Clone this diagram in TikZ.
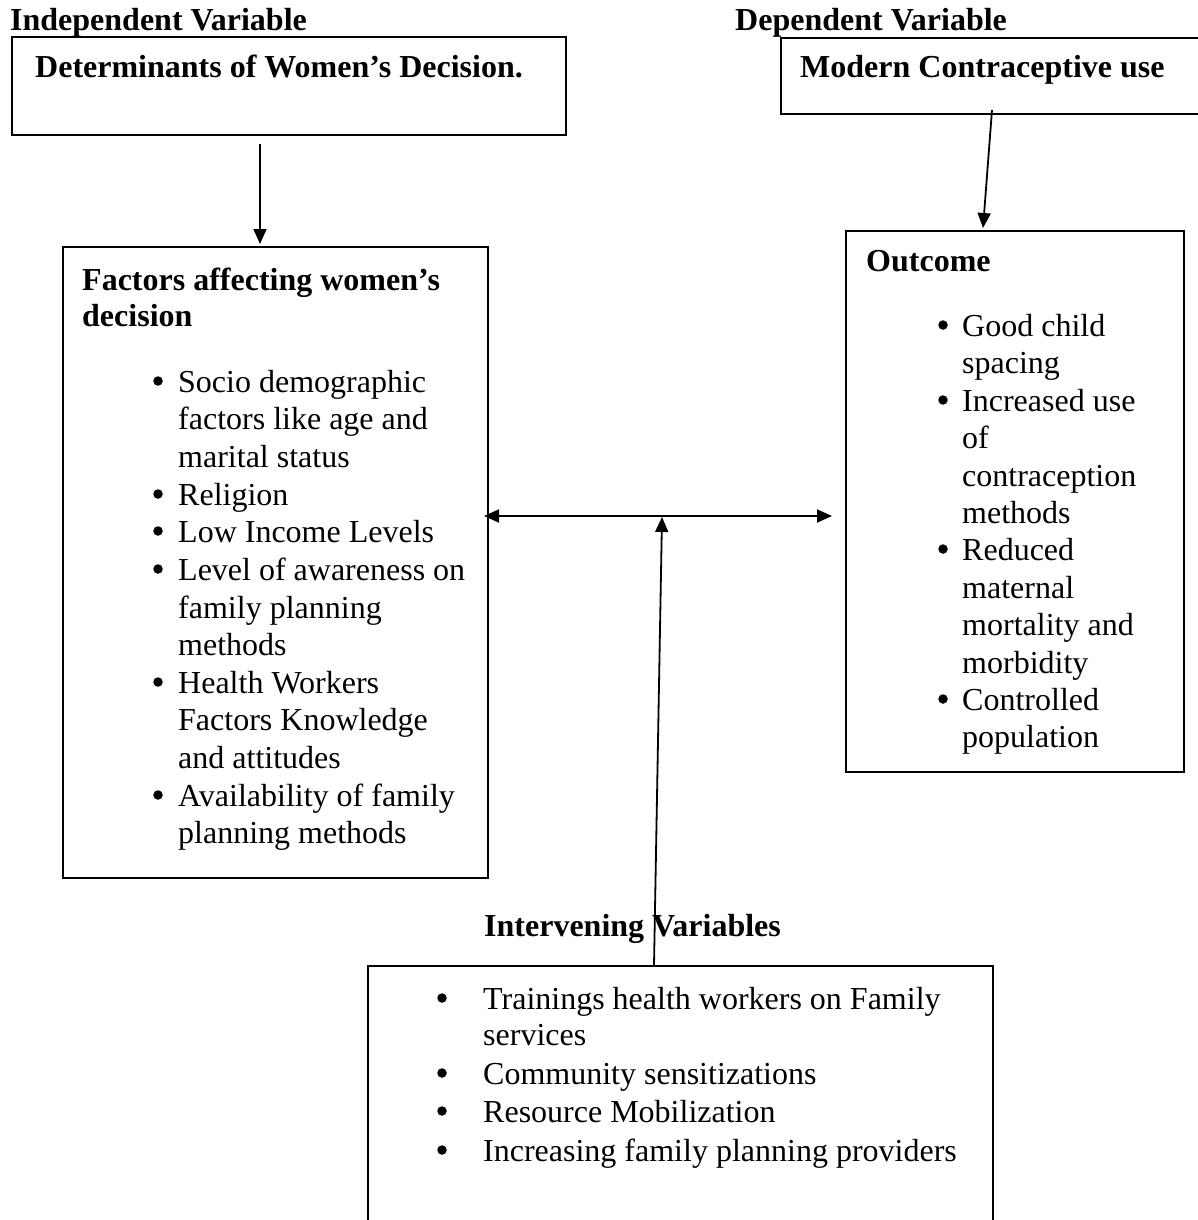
\documentclass[tikz,border=0pt]{standalone}
\usepackage{fontspec}
\setmainfont{Liberation Serif}
\usetikzlibrary{arrows.meta}
\tikzset{
  box/.style={draw, line width=1.8pt, inner sep=0, anchor=north west},
  txt/.style={anchor=base west, inner sep=0, font=\fontsize{32}{37}\selectfont},
  hd/.style={anchor=base west, inner sep=0, font=\fontsize{32}{37}\selectfont\bfseries},
  bul/.style={circle, fill, inner sep=0, minimum size=9.5pt},
  arr/.style={line width=1.8pt, -{Triangle[length=15pt,width=13pt]}},
  darr/.style={line width=1.8pt, {Triangle[length=15pt,width=13pt]}-{Triangle[length=15pt,width=13pt]}}
}
\begin{document}
\begin{tikzpicture}[x=1pt,y=-1pt]
\useasboundingbox (0,0) rectangle (1198,1220);
\clip (0,0) rectangle (1198,1220);
\fill[white] (0,0) rectangle (1198,1220);

% top labels
\node[hd] (iv) at (10,31) {Independent Variable};
\node[hd] (dv) at (735,31) {Dependent Variable};

% box 1
\node[box, minimum width=554pt, minimum height=98pt] (det) at (11,36) {};
\node[hd] (detT) at (35,78) {Determinants of Women’s Decision.};

% box 3
\node[box, minimum width=440pt, minimum height=76pt] (mcu) at (780,37) {};
\node[hd] (mcuT) at (800,78) {Modern Contraceptive use};

% box 2
\node[box, minimum width=425pt, minimum height=631pt] (fac) at (62,246) {};
\node[hd] (facT1) at (82,290) {Factors affecting women’s};
\node[hd] (facT2) at (82,326) {decision};

\node[bul] (fb1) at (158,381) {};
\node[txt] (f1) at (178,392) {Socio demographic};
\node[txt] (f2) at (178,429) {factors like age and};
\node[txt] (f3) at (178,467) {marital status};
\node[bul] (fb2) at (158,494) {};
\node[txt] (f4) at (178,505) {Religion};
\node[bul] (fb3) at (158,531) {};
\node[txt] (f5) at (178,542) {Low Income Levels};
\node[bul] (fb4) at (158,569) {};
\node[txt] (f6) at (178,580) {Level of awareness on};
\node[txt] (f7) at (178,618) {family planning};
\node[txt] (f8) at (178,655) {methods};
\node[bul] (fb5) at (158,682) {};
\node[txt] (f9) at (178,693) {Health Workers};
\node[txt] (f10) at (178,730) {Factors Knowledge};
\node[txt] (f11) at (178,768) {and attitudes};
\node[bul] (fb6) at (158,795) {};
\node[txt] (f12) at (178,806) {Availability of family};
\node[txt] (f13) at (178,843) {planning methods};

% box 4
\node[box, minimum width=338pt, minimum height=541pt] (out) at (845,230) {};
\node[hd] (outT) at (866,271) {Outcome};
\node[bul] (ob1) at (943,325) {};
\node[txt] (o1) at (962,336) {Good child};
\node[txt] (o2) at (962,373) {spacing};
\node[bul] (ob2) at (943,400) {};
\node[txt] (o3) at (962,411) {Increased use};
\node[txt] (o4) at (962,448) {of};
\node[txt] (o5) at (962,486) {contraception};
\node[txt] (o6) at (962,523) {methods};
\node[bul] (ob3) at (943,549) {};
\node[txt] (o7) at (962,560) {Reduced};
\node[txt] (o8) at (962,598) {maternal};
\node[txt] (o9) at (962,635) {mortality and};
\node[txt] (o10) at (962,673) {morbidity};
\node[bul] (ob4) at (943,699) {};
\node[txt] (o11) at (962,710) {Controlled};
\node[txt] (o12) at (962,747) {population};

% intervening
\node[hd] (intT) at (484,936) {Intervening Variables};
\node[box, minimum width=625pt, minimum height=300pt] (int) at (367,965) {};
\node[bul] (ib1) at (442,998) {};
\node[txt] (i1) at (483,1009) {Trainings health workers on Family};
\node[txt] (i2) at (483,1045) {services};
\node[bul] (ib2) at (442,1073) {};
\node[txt] (i3) at (483,1084) {Community sensitizations};
\node[bul] (ib3) at (442,1111) {};
\node[txt] (i4) at (483,1122) {Resource Mobilization};
\node[bul] (ib4) at (442,1150) {};
\node[txt] (i5) at (483,1161) {Increasing family planning providers};

% connectors
\coordinate (a1s) at (260,144);
\coordinate (a1e) at (260,244);
\draw[arr] (a1s) -- (a1e);
\coordinate (a2s) at (992,110);
\coordinate (a2e) at (983,228);
\draw[arr] (a2s) -- (a2e);
\coordinate (hl) at (484,516);
\coordinate (hr) at (832,516);
\draw[darr] (hl) -- (hr);
\coordinate (vs) at (654,965);
\coordinate (ve) at (662,517);
\draw[arr] (vs) -- (ve);
\end{tikzpicture}
\end{document}
